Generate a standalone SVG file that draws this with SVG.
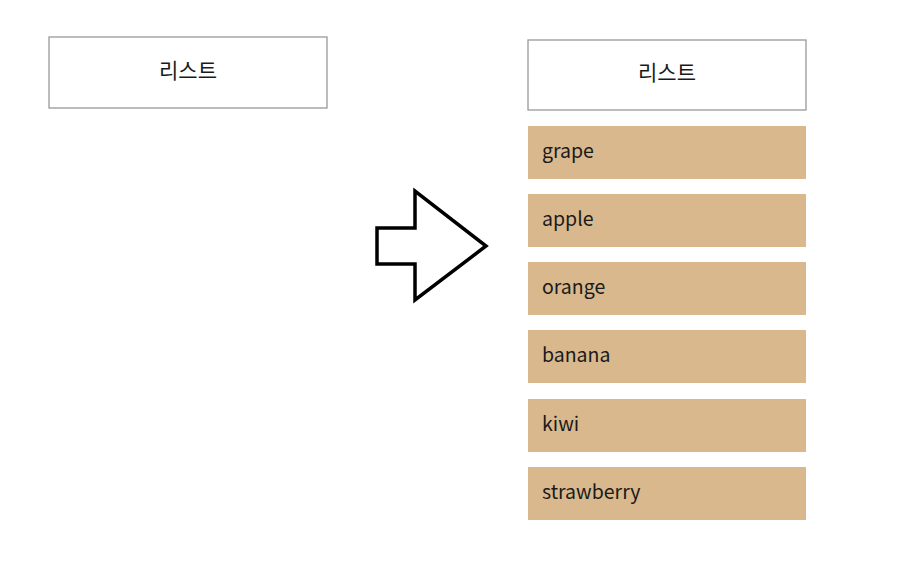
<svg xmlns="http://www.w3.org/2000/svg" width="912" height="564" viewBox="0 0 912 564">
<style>
.hdr{fill:#fff;stroke:#999;stroke-width:1.3}
.item{fill:#D8B88C}
.t{font-family:"Noto Sans CJK KR","Noto Sans",sans-serif;font-size:19.5px;fill:#1a1a1a}
.k{font-size:21px;text-anchor:middle}
</style>
<rect width="912" height="564" fill="#fff"/>
<g id="left-list"><rect class="hdr" x="49" y="37" width="278" height="71"/><text class="t k" x="188" y="78">리스트</text></g>
<g id="connectors"><polygon points="377,228 415,228 415,191 486,246 415,300 415,264 377,264" fill="#fff" stroke="#000" stroke-width="3.5" stroke-linejoin="miter"/></g>
<g id="right-list"><rect class="hdr" x="528" y="40" width="278" height="70"/><text class="t k" x="667" y="80">리스트</text></g>
<g id="grape"><rect class="item" x="528" y="126" width="278" height="53"/><text class="t" x="542" y="158">grape</text></g>
<g id="apple"><rect class="item" x="528" y="194" width="278" height="53"/><text class="t" x="542" y="226">apple</text></g>
<g id="orange"><rect class="item" x="528" y="262" width="278" height="53"/><text class="t" x="542" y="294">orange</text></g>
<g id="banana"><rect class="item" x="528" y="330" width="278" height="53"/><text class="t" x="542" y="362">banana</text></g>
<g id="kiwi"><rect class="item" x="528" y="399" width="278" height="53"/><text class="t" x="542" y="431">kiwi</text></g>
<g id="strawberry"><rect class="item" x="528" y="467" width="278" height="53"/><text class="t" x="542" y="499">strawberry</text></g>
</svg>
